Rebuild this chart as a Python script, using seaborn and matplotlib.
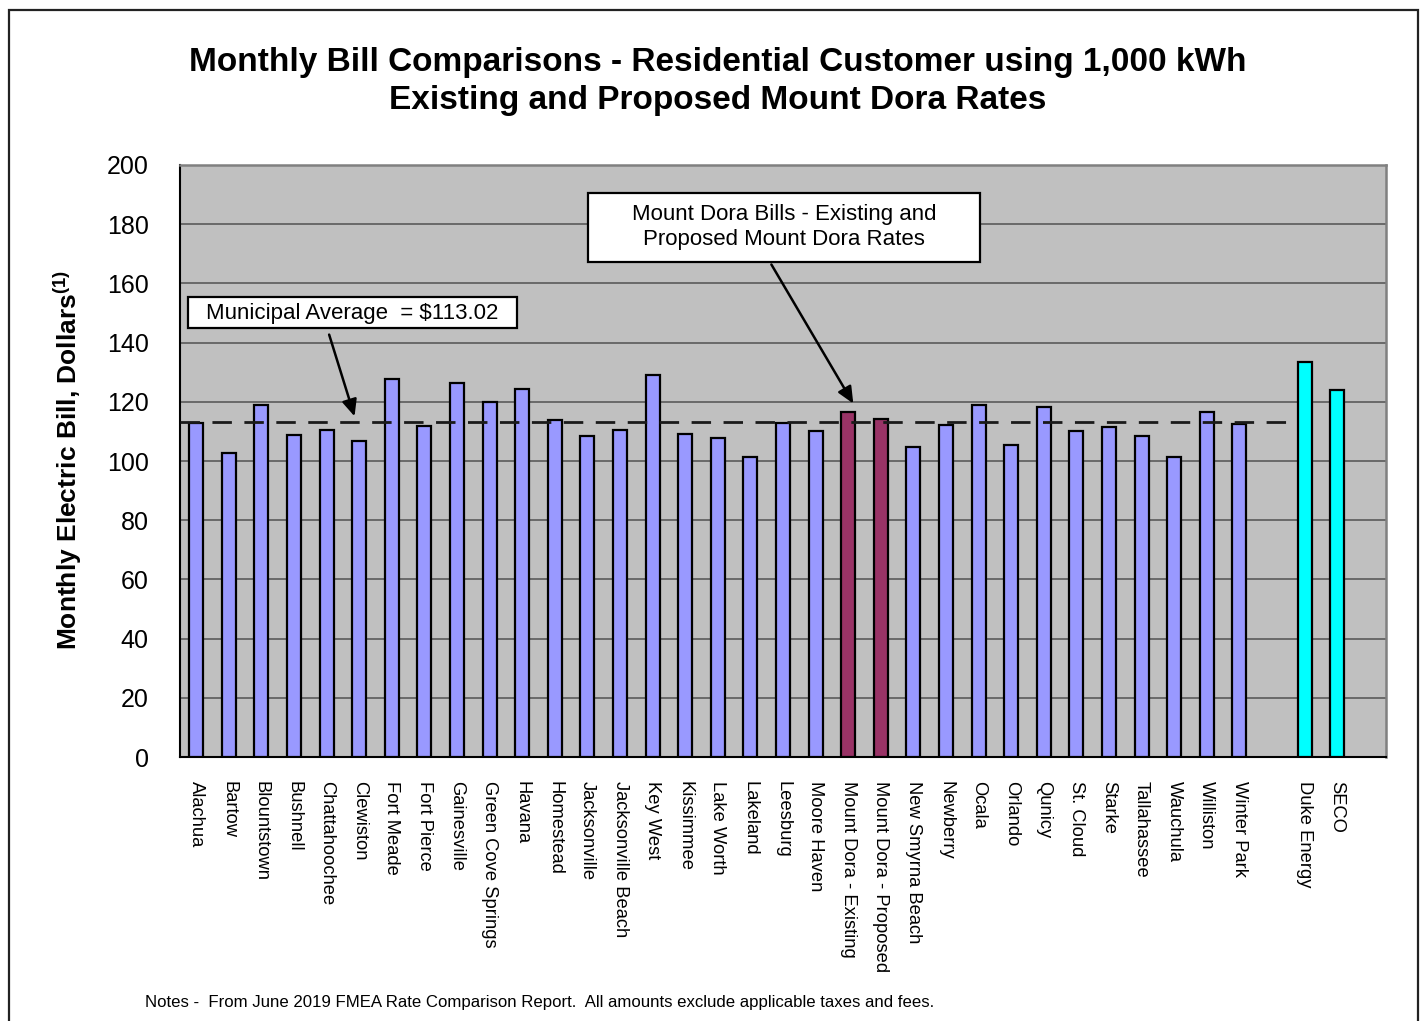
import matplotlib
matplotlib.use("Agg")
import matplotlib.pyplot as plt
import seaborn as sns
import numpy as np
import pandas as pd
from matplotlib.patches import Rectangle

# ---------------- data ----------------
utilities = ["Alachua", "Bartow", "Blountstown", "Bushnell", "Chattahoochee", "Clewiston",
             "Fort Meade", "Fort Pierce", "Gainesville", "Green Cove Springs", "Havana",
             "Homestead", "Jacksonville", "Jacksonville Beach", "Key West", "Kissimmee",
             "Lake Worth", "Lakeland", "Leesburg", "Moore Haven", "Mount Dora - Existing",
             "Mount Dora - Proposed", "New Smyrna Beach", "Newberry", "Ocala", "Orlando",
             "Qunicy", "St. Cloud", "Starke", "Tallahassee", "Wauchula", "Williston",
             "Winter Park"]
municipal_bills = [112.9, 102.8, 118.9, 108.8, 110.6, 106.6, 127.6, 111.7, 126.3, 119.8,
                   124.4, 113.8, 108.3, 110.6, 129.2, 109.2, 107.9, 101.4, 112.9, 110.2,
                   116.7, 114.3, 104.6, 112.1, 118.9, 105.5, 118.4, 110.2, 111.5, 108.5,
                   101.5, 116.4, 112.6]
iou_names = ["Duke Energy", "SECO"]
iou_bills = [133.3, 124.0]
mount_dora = ["Mount Dora - Existing", "Mount Dora - Proposed"]
municipal_average = 113.02
yticks = [0, 20, 40, 60, 80, 100, 120, 140, 160, 180, 200]

groups = ["Mount Dora" if u in mount_dora else "Municipal" for u in utilities] + ["IOU"] * len(iou_names)
df = pd.DataFrame({"utility": utilities + iou_names,
                   "bill": municipal_bills + iou_bills,
                   "group": groups})
order = utilities + [" "] + iou_names + ["  "]
palette = {"Municipal": "#9999FF", "Mount Dora": "#993366", "IOU": "#00FFFF"}

# ---------------- figure ----------------
sns.set_style("white")
plt.rcParams["font.family"] = ["Liberation Sans", "DejaVu Sans"]
plt.rcParams["mathtext.fontset"] = "custom"
plt.rcParams["mathtext.rm"] = "Liberation Sans"
plt.rcParams["mathtext.bf"] = "Liberation Sans:bold"
plt.rcParams["text.color"] = "black"
plt.rcParams["xtick.color"] = "black"
plt.rcParams["ytick.color"] = "black"

fig = plt.figure(figsize=(14.24, 10.21), dpi=100)
ax = fig.add_axes([180 / 1424, 264 / 1021, 1206 / 1424, 592 / 1021])
ax.set_facecolor("#C0C0C0")

sns.barplot(data=df, x="utility", y="bill", hue="group", order=order, palette=palette,
            dodge=False, width=0.43, edgecolor="black", linewidth=1.6, legend=False,
            saturation=1, errorbar=None, ax=ax, zorder=3)

ax.set_ylim(0, 200)
ax.set_xlim(-0.5, len(order) - 0.5)
ax.set_yticks(yticks)
ax.set_yticklabels([str(v) for v in yticks], fontsize=18)
ax.yaxis.grid(True, color="#5a5a5a", linewidth=1.2, zorder=0)
ax.set_axisbelow(True)

ax.set_xticks(range(len(order)))
ax.set_xticklabels(order, rotation=-90, fontsize=13.2, va="top", ha="center")
ax.set_xticks(np.arange(-0.5, len(order), 1), minor=True)
ax.tick_params(axis="x", which="major", length=0, pad=17)
ax.tick_params(axis="x", which="minor", length=5, width=1.2, color="black", direction="out")
ax.tick_params(axis="y", which="major", length=7.5, width=1.2, color="black", pad=15,
               direction="out")
ax.set_xlabel("")
ax.set_ylabel("")

for side in ["top", "right"]:
    ax.spines[side].set_color("#808080")
    ax.spines[side].set_linewidth(1.8)
for side in ["left", "bottom"]:
    ax.spines[side].set_color("black")
    ax.spines[side].set_linewidth(1.5)

# municipal average dashed line
ax.plot([-0.5, len(utilities) + 0.5], [municipal_average, municipal_average],
        color="#1a1a1a", linewidth=2, linestyle=(0, (7, 4.5)), zorder=4)

# annotation boxes
ax.add_patch(Rectangle((-0.255, 144.9), 10.1, 10.5, facecolor="white", edgecolor="black",
                       linewidth=1.6, zorder=5))
ax.text(4.78, 150.0, "Municipal Average  = $%.2f" % municipal_average, fontsize=16,
        ha="center", va="center", zorder=6)
ax.annotate("", xy=(4.88, 114.2), xytext=(4.05, 143.6),
            arrowprops=dict(arrowstyle="-|>,head_length=1.0,head_width=0.45",
                            color="black", linewidth=1.8), zorder=6)

ax.add_patch(Rectangle((12.02, 167.2), 12.02, 23.3, facecolor="white", edgecolor="black",
                       linewidth=1.6, zorder=5))
ax.text(18.03, 178.9, "Mount Dora Bills - Existing and\nProposed Mount Dora Rates",
        fontsize=16, ha="center", va="center", linespacing=1.25, zorder=6)
ax.annotate("", xy=(20.2, 118.6), xytext=(17.6, 167.2),
            arrowprops=dict(arrowstyle="-|>,head_length=1.0,head_width=0.45",
                            color="black", linewidth=1.8), zorder=6)

# titles and labels
fig.text(718 / 1424, 1 - 62 / 1021, "Monthly Bill Comparisons - Residential Customer using 1,000 kWh",
         ha="center", va="center", fontsize=24, fontweight="bold")
fig.text(718 / 1424, 1 - 101 / 1021, "Existing and Proposed Mount Dora Rates",
         ha="center", va="center", fontsize=24, fontweight="bold")
fig.text(68 / 1424, 1 - 460 / 1021, r"Monthly Electric Bill, Dollars$^{\mathbf{(1)}}$",
         ha="center", va="center", rotation=90, fontsize=19, fontweight="bold")
fig.text(145 / 1424, 1 - 1002 / 1021,
         "Notes -  From June 2019 FMEA Rate Comparison Report.  All amounts exclude applicable taxes and fees.",
         ha="left", va="center", fontsize=12.1)

# outer frame
fig.patches.append(Rectangle((9 / 1424, -0.02), 1409 / 1424, 1.02 - 10 / 1021,
                             transform=fig.transFigure, facecolor="none", edgecolor="#222222",
                             linewidth=1.6, zorder=0))

fig.savefig("out.png", dpi=100, facecolor="white")
